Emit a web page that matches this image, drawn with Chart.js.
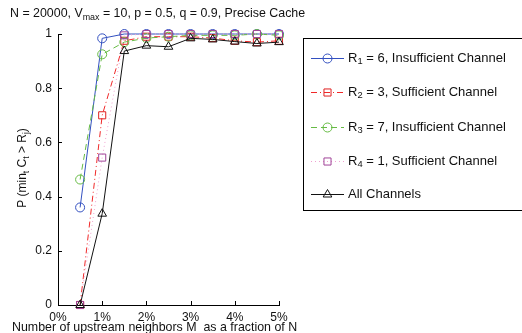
<!DOCTYPE html>
<html>
<head>
<meta charset="utf-8">
<script src="https://cdn.jsdelivr.net/npm/chart.js@4"></script>
<style>
  body { margin: 0; background: #fff; }
  #wrap { width: 522px; height: 333px; }
</style>
</head>
<body>
<div id="wrap"><canvas id="c" width="522" height="333"></canvas></div>
<script>
// ---- data ----
var xPct = [0.5, 1, 1.5, 2, 2.5, 3, 3.5, 4, 4.5, 5];
var r1Insuff = [0.36, 0.984, 1.0, 1.0, 1.0, 1.0, 1.0, 1.0, 1.0, 1.0];
var r2Suff   = [0, 0.70, 0.975, 0.99, 0.99, 0.99, 0.985, 0.975, 0.97, 0.975];
var r3Insuff = [0.463, 0.925, 0.97, 0.985, 0.99, 0.995, 0.995, 0.995, 1.0, 0.995];
var r4Suff   = [0, 0.544, 0.995, 1.0, 1.0, 1.0, 1.0, 1.0, 1.0, 1.0];
var allCh    = [0, 0.337, 0.937, 0.957, 0.953, 0.984, 0.98, 0.972, 0.965, 0.97];

var xTickLabels = ['0%', '1%', '2%', '3%', '4%', '5%'];
var yTickLabels = ['0', '0.2', '0.4', '0.6', '0.8', '1'];

// legend labels, [text, isSub]
var legendLabels = [
  [['R', 0], ['1', 1], [' = 6, Insufficient Channel', 0]],
  [['R', 0], ['2', 1], [' = 3, Sufficient Channel', 0]],
  [['R', 0], ['3', 1], [' = 7, Insufficient Channel', 0]],
  [['R', 0], ['4', 1], [' = 1, Sufficient Channel', 0]],
  [['All Channels', 0]]
];
var titleParts = [['N = 20000, V', 0], ['max', 1], [' = 10, p = 0.5, q = 0.9, Precise Cache', 0]];
var yTitleParts = [['P (min', 0], ['t', 1], [' C', 0], ['t', 1], [' > R', 0], ['j', 1], [')', 0]];
var xTitle = 'Number of upstream neighbors M  as a fraction of N';

var FONT = '"Liberation Sans", "DejaVu Sans", sans-serif';

function pts(arr) {
  return arr.map(function (v, i) { return { x: xPct[i], y: v }; });
}

// draws text with simple subscripts
function drawRich(ctx, parts, x, y, size, align) {
  var w = 0;
  parts.forEach(function (p) {
    ctx.font = (p[1] ? size * 0.72 : size) + 'px ' + FONT;
    w += ctx.measureText(p[0]).width;
  });
  var cx = align === 'center' ? x - w / 2 : x;
  ctx.textBaseline = 'middle';
  ctx.textAlign = 'left';
  parts.forEach(function (p) {
    ctx.font = (p[1] ? size * 0.72 : size) + 'px ' + FONT;
    ctx.fillText(p[0], cx, p[1] ? y + size * 0.3 : y);
    cx += ctx.measureText(p[0]).width;
  });
}

var extras = {
  id: 'extras',
  afterDraw: function (chart) {
    var ctx = chart.ctx;
    var area = chart.chartArea;
    var xs = chart.scales.x, ys = chart.scales.y;
    ctx.save();
    // inward ticks
    ctx.strokeStyle = '#000';
    ctx.lineWidth = 1;
    ctx.beginPath();
    for (var i = 0; i < yTickLabels.length; i++) {
      var py = Math.round(ys.getPixelForValue(i * 0.2)) + 0.5;
      ctx.moveTo(area.left, py); ctx.lineTo(area.left + 4, py);
    }
    for (var j = 0; j < xTickLabels.length; j++) {
      var px = Math.round(xs.getPixelForValue(j)) + 0.5;
      ctx.moveTo(px, area.bottom); ctx.lineTo(px, area.bottom - 4);
    }
    ctx.stroke();

    ctx.fillStyle = '#111';
    drawRich(ctx, titleParts, 10, 14, 12.4, 'left');

    ctx.save();
    ctx.translate(23, 168);
    ctx.rotate(-Math.PI / 2);
    drawRich(ctx, yTitleParts, 0, 0, 12, 'center');
    ctx.restore();

    ctx.font = '12.4px ' + FONT;
    ctx.textBaseline = 'middle';
    ctx.fillText(xTitle, 12, 328);

    // legend box
    ctx.strokeStyle = '#000';
    ctx.strokeRect(303.5, 38.5, 230, 172);
    var ly = [58, 92, 127, 161, 194];
    chart.data.datasets.forEach(function (ds, k) {
      var y = ly[k];
      ctx.save();
      ctx.strokeStyle = ds.borderColor;
      ctx.lineWidth = 1;
      ctx.setLineDash(ds.borderDash || []);
      ctx.beginPath();
      ctx.moveTo(311, y + 0.5); ctx.lineTo(344, y + 0.5);
      ctx.stroke();
      ctx.setLineDash([]);
      ctx.strokeStyle = ds.pointBorderColor;
      ctx.fillStyle = 'rgba(0,0,0,0)';
      Chart.helpers.drawPoint(ctx, {
        pointStyle: ds.pointStyle, radius: ds.pointRadius, borderWidth: 1, rotation: 0
      }, 327.5, y + 0.5);
      ctx.restore();
      ctx.fillStyle = '#111';
      drawRich(ctx, legendLabels[k], 348, y, 13, 'left');
    });
    ctx.restore();
  }
};

new Chart(document.getElementById('c'), {
  type: 'line',
  data: {
    datasets: [
      { data: pts(r1Insuff), borderColor: '#3350c0', pointBorderColor: '#3350c0', pointStyle: 'circle', pointRadius: 4.5, order: 5 },
      { data: pts(r2Suff), borderColor: '#f02828', pointBorderColor: '#e02020', borderDash: [6, 3, 1, 3], pointStyle: 'rect', pointRadius: 5, order: 4 },
      { data: pts(r3Insuff), borderColor: '#66bb44', pointBorderColor: '#66bb44', borderDash: [6, 4], pointStyle: 'circle', pointRadius: 4.5, order: 3 },
      { data: pts(r4Suff), borderColor: '#f0a0d0', pointBorderColor: '#a04498', borderDash: [1, 3], pointStyle: 'rect', pointRadius: 5, order: 2 },
      { data: pts(allCh), borderColor: '#111111', pointBorderColor: '#111111', pointStyle: 'triangle', pointRadius: 5, order: 1 }
    ].map(function (d) {
      d.borderWidth = 1;
      d.fill = false;
      d.tension = 0;
      d.pointBackgroundColor = 'rgba(0,0,0,0)';
      d.pointBorderWidth = 1;
      d.clip = false;
      return d;
    })
  },
  options: {
    responsive: false,
    animation: false,
    devicePixelRatio: 1,
    layout: { padding: { top: 34, right: 243, left: 0, bottom: 0 } },
    plugins: { legend: { display: false }, title: { display: false }, tooltip: { enabled: false } },
    scales: {
      x: {
        type: 'linear', min: 0, max: 5,
        grid: { display: true, drawOnChartArea: false, drawTicks: false },
        border: { color: '#000', width: 1 },
        ticks: {
          stepSize: 1, padding: 5, color: '#111', font: { size: 12, family: FONT },
          callback: function (v) { return xTickLabels[v]; }
        },
        afterFit: function (s) { s.height = 28; }
      },
      y: {
        min: 0, max: 1,
        grid: { display: true, drawOnChartArea: false, drawTicks: false },
        border: { color: '#000', width: 1 },
        ticks: {
          stepSize: 0.2, padding: 6, color: '#111', font: { size: 12, family: FONT },
          callback: function (v) { return yTickLabels[Math.round(v * 5)]; }
        },
        afterFit: function (s) { s.width = 58; }
      }
    }
  },
  plugins: [extras]
});
</script>
</body>
</html>
